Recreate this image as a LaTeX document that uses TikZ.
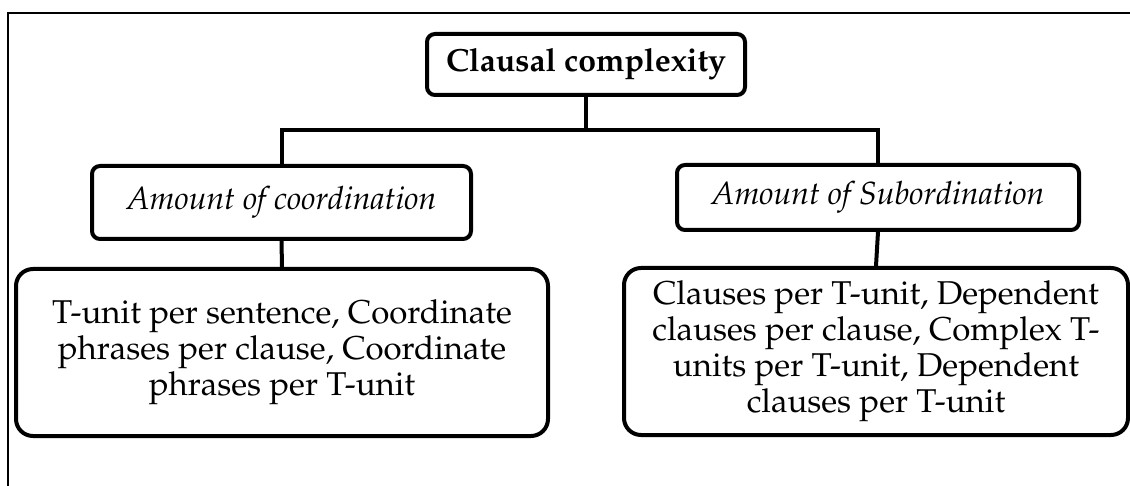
\documentclass[tikz,border=0pt]{standalone}
\usepackage[T1]{fontenc}
\usepackage{mathpazo}
\begin{document}
\begin{tikzpicture}[x=1pt,y=-1pt,
  box/.style={draw=black,line width=4pt,rounded corners=8pt,fill=white,align=center,inner sep=0pt},
  bigbox/.style={box,rounded corners=17pt},
  conn/.style={line width=4pt},
  frameline/.style={line width=1.8pt},
  txt/.style={font=\fontsize{32}{37}\selectfont},
  bodytxt/.style={font=\fontsize{33}{36}\selectfont}]
\useasboundingbox (0,0) rectangle (1130,486);
\coordinate (f0) at (8,486);
\coordinate (f1) at (8,13);
\coordinate (f2) at (1130,13);
\draw[frameline] (f0) -- (f1) -- (f2);

\node[box,font=\fontsize{32}{37}\selectfont\bfseries,minimum width=318pt,minimum height=61pt] (top) at (586,64.5) {Clausal complexity};
\node[box,font=\fontsize{32}{37}\selectfont\itshape,minimum width=379pt,minimum height=73pt] (coord) at (281.5,202.5) {Amount of coordination};
\node[box,font=\fontsize{32}{37}\selectfont\itshape,minimum width=402pt,minimum height=65pt] (sub) at (878,197.5) {Amount of Subordination};
\node[bigbox,bodytxt,minimum width=532pt,minimum height=167pt] (cl) at (282,352.5) {T-unit per sentence, Coordinate\\phrases per clause, Coordinate\\phrases per T-unit};
\node[bigbox,bodytxt,minimum width=504pt,minimum height=167pt] (cr) at (876,351.5) {Clauses per T-unit, Dependent\\clauses per clause, Complex T-\\units per T-unit, Dependent\\clauses per T-unit};

\coordinate (j) at (586,130);
\draw[conn] (top.south) -- (j);
\draw[conn,line cap=rect] (coord.north |- j) -- (sub.north |- j);
\draw[conn] (coord.north |- j) -- (coord.north);
\draw[conn] (sub.north |- j) -- (sub.north);
\draw[conn] (coord.south) -- (cl.north);
\draw[conn] (sub.south) -- (cr.north);
\end{tikzpicture}
\end{document}
